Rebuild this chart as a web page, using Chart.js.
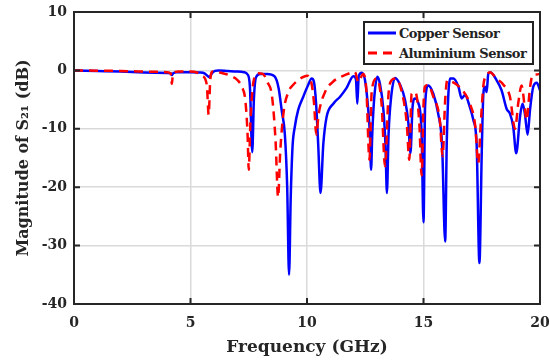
<!DOCTYPE html>
<html>
<head>
<meta charset="utf-8">
<script src="https://cdn.jsdelivr.net/npm/chart.js@4.4.1/dist/chart.umd.min.js"></script>
<style>
  body { margin: 0; background: #fff; }
  #wrap { position: relative; width: 550px; height: 362px; overflow: hidden; }
  #legend {
    position: absolute; left: 363px; top: 21px; width: 167px; height: 40px;
    border: 2px solid #222; background: #fff;
    font: bold 13px "DejaVu Serif", serif; color: #222; letter-spacing: -0.5px;
    white-space: nowrap;
  }
  #legend .row { display: flex; align-items: center; height: 20px; padding-left: 3px; }
  #legend svg { margin-right: 3px; }
</style>
</head>
<body>
<div id="wrap">
  <canvas id="s21Chart" width="550" height="362"></canvas>
  <div id="legend"></div>
</div>
<script>
// Copper sensor S21 (GHz / dB)
const copperFreq = [0, 1, 2, 3, 4.0, 4.15, 4.2, 4.25, 4.4, 5.0, 5.4, 5.6, 5.75, 5.82, 5.9, 6.05, 6.2, 6.6, 7.0, 7.3, 7.45,
  7.55, 7.65, 7.72, 7.81, 7.98, 8.3, 8.6, 8.78, 8.92, 9.05, 9.15, 9.23, 9.3, 9.38, 9.48, 9.62, 9.84, 10.04, 10.2, 10.3,
  10.39, 10.48, 10.58, 10.7, 10.84, 11.13, 11.42, 11.7, 11.99, 12.1, 12.16, 12.22, 12.35, 12.49, 12.63, 12.7, 12.75, 12.8, 12.88,
  13.02, 13.13, 13.28, 13.37, 13.43, 13.5, 13.6, 13.78, 14.0, 14.21, 14.35, 14.44, 14.53, 14.63, 14.78, 14.92, 15.0, 15.07, 15.2, 15.42,
  15.63, 15.8, 15.93, 16.0, 16.14, 16.28, 16.5, 16.64, 16.78, 16.99, 17.14, 17.28, 17.4, 17.5, 17.57, 17.64, 17.71, 17.78, 17.87, 18.14,
  18.35, 18.57, 18.71, 18.85, 18.98, 19.14, 19.25, 19.35, 19.47, 19.57, 19.71, 19.86, 20.0];
const copperDb = [0, -0.1, -0.2, -0.35, -0.45, -0.5, -0.8, -0.5, -0.3, -0.3, -0.35, -0.5, -1.0, -1.2, -0.6, -0.1, 0, -0.1, -0.2, -0.3, -0.7,
  -2.8, -14, -5, -1.2, -0.6, -0.6, -1.0, -3, -7, -11, -20, -35, -22, -13, -9.6, -6.8, -4.5, -2.6, -1.4, -2,
  -5.7, -12.6, -21, -12.6, -8, -5.7, -4.5, -3.0, -1.0, -1.5, -5.7, -1, -0.4, -1.7, -6.8, -11, -17, -11, -5,
  -1.1, -2.3, -6.8, -13, -21, -11, -5, -1.3, -2.5, -5.1, -9, -14.2, -6.3, -4.8, -5.6, -11, -26, -6, -2.6, -4.0,
  -7.4, -13, -29.3, -12, -1.4, -1.4, -2.8, -4.8, -4.2, -6.3, -8.5, -12.6, -33, -14, -4, -2.8, -3.7, -0.6, -0.3, -1.7,
  -3.4, -6.6, -7.4, -9.6, -14.2, -8, -5.7, -7.4, -11, -6.8, -2.8, -2.1, -3.4];

// Aluminium sensor S21 (GHz / dB)
const alumFreq = [0, 1, 2, 3, 4.0, 4.15, 4.2, 4.25, 4.5, 5.0, 5.3, 5.5, 5.7, 5.78, 5.85, 5.95, 6.3, 6.7, 7.0, 7.2,
  7.35, 7.45, 7.5, 7.57, 7.7, 7.9, 8.1, 8.3, 8.5, 8.65, 8.76, 8.85, 9.0, 9.2, 9.4, 9.8, 10.0, 10.15, 10.3, 10.4,
  10.5, 10.8, 11.1, 11.3, 11.6, 12.06, 12.2, 12.41, 12.55, 12.68, 12.78, 13.0, 13.2, 13.35, 13.5, 13.63, 13.8, 14.07, 14.28, 14.39,
  14.49, 14.64, 14.82, 14.92, 15.0, 15.06, 15.2, 15.42, 15.7, 15.82, 15.93, 16.02, 16.2, 16.56, 16.99, 17.22, 17.35, 17.45, 17.57, 17.71,
  17.85, 18.13, 18.42, 18.71, 18.93, 19.07, 19.21, 19.35, 19.42, 19.57, 19.68, 19.85, 20.0];
const alumDb = [0, -0.05, -0.1, -0.2, -0.3, -0.5, -2.3, -0.5, -0.2, -0.2, -0.4, -0.9, -2.5, -7.6, -1.5, -0.2, -0.4, -0.9, -1.6, -2.8,
  -5, -11, -17, -9, -2, -0.5, -0.6, -2, -4.5, -12, -21.7, -14, -7, -3.7, -2.5, -1.2, -0.9, -1.5, -5.5, -11,
  -7.5, -3.5, -2, -1.4, -0.85, -0.3, -2, -0.6, -3.5, -15.3, -3.4, -1.4, -5.7, -16.4, -4, -1.7, -1.4, -3.7, -9, -15.3,
  -4, -3.7, -9, -18, -6, -2.8, -2.5, -4.5, -8.5, -14.7, -5.1, -1.7, -1.9, -2.9, -5.7, -9.5, -15.9, -9.6, -2.6, -0.85,
  -0.3, -1.4, -2.4, -4.5, -10, -5.5, -2.6, -6.5, -8.5, -3, -0.85, -0.7, -0.6];

const xTicks = [0, 5, 10, 15, 20];
const yTicks = [-40, -30, -20, -10, 0, 10];
const seriesNames = ['Copper Sensor', 'Aluminium Sensor'];

const FONT = '"DejaVu Serif", serif';
const INK = '#262626';

function toPoints(xs, ys) {
  return xs.map((x, i) => ({ x: x, y: ys[i] }));
}

// box around the axes with inward tick marks on all four sides
const frameTicks = {
  id: 'frameTicks',
  afterDraw(chart) {
    const { ctx, chartArea: a, scales } = chart;
    const len = 6;
    ctx.save();
    ctx.strokeStyle = INK;
    ctx.lineWidth = 2;
    ctx.beginPath();
    xTicks.forEach(v => {
      const px = scales.x.getPixelForValue(v);
      ctx.moveTo(px, a.bottom); ctx.lineTo(px, a.bottom - len);
      ctx.moveTo(px, a.top); ctx.lineTo(px, a.top + len);
    });
    yTicks.forEach(v => {
      const py = scales.y.getPixelForValue(v);
      ctx.moveTo(a.left, py); ctx.lineTo(a.left + len, py);
      ctx.moveTo(a.right, py); ctx.lineTo(a.right - len, py);
    });
    ctx.stroke();
    ctx.strokeRect(a.left, a.top, a.right - a.left, a.bottom - a.top);
    ctx.restore();
  }
};

function noEdgePad(s) {
  s.paddingLeft = 0; s.paddingRight = 0; s.paddingTop = 0; s.paddingBottom = 0;
}

const ctx = document.getElementById('s21Chart').getContext('2d');
const chart = new Chart(ctx, {
  type: 'line',
  data: {
    datasets: [{
      label: seriesNames[0],
      data: toPoints(copperFreq, copperDb),
      borderColor: '#0000ff',
      borderWidth: 2.5,
      pointRadius: 0,
      cubicInterpolationMode: 'monotone',
      order: 2
    }, {
      label: seriesNames[1],
      data: toPoints(alumFreq, alumDb),
      borderColor: '#ff0000',
      borderWidth: 2.5,
      borderDash: [9, 6],
      pointRadius: 0,
      cubicInterpolationMode: 'monotone',
      order: 1
    }]
  },
  options: {
    responsive: false,
    animation: false,
    layout: { padding: { top: 12, right: 10, left: 0, bottom: 0 } },
    plugins: { legend: { display: false }, tooltip: { enabled: false } },
    scales: {
      x: {
        type: 'linear', min: 0, max: 20,
        afterBuildTicks: s => { s.ticks = xTicks.map(v => ({ value: v })); },
        afterFit: s => { s.height = 58; noEdgePad(s); },
        grid: { color: '#dadada', lineWidth: 1.5, drawTicks: false },
        border: { display: false },
        ticks: { padding: 11, color: INK, font: { family: FONT, size: 14, weight: 'bold' } },
        title: {
          display: true, text: 'Frequency (GHz)', color: INK,
          padding: { top: 0, bottom: 4 },
          font: { family: FONT, size: 17, weight: 'bold' }
        }
      },
      y: {
        type: 'linear', min: -40, max: 10,
        afterBuildTicks: s => { s.ticks = yTicks.map(v => ({ value: v })); },
        afterFit: s => { s.width = 74; noEdgePad(s); },
        grid: { color: '#dadada', lineWidth: 1.5, drawTicks: false },
        border: { display: false },
        ticks: { padding: 7, color: INK, font: { family: FONT, size: 14, weight: 'bold' } },
        title: {
          display: true, text: 'Magnitude of S\u2082\u2081 (dB)', color: INK,
          padding: { top: 14, bottom: 0 },
          font: { family: FONT, size: 16, weight: 'bold' }
        }
      }
    }
  },
  plugins: [frameTicks]
});

// legend box drawn over the plot, styles taken from the datasets
const legend = document.getElementById('legend');
chart.data.datasets.forEach(ds => {
  const dash = ds.borderDash ? ' stroke-dasharray="' + ds.borderDash.join(',') + '"' : '';
  legend.innerHTML += '<div class="row"><svg width="28" height="6"><line x1="0" y1="3" x2="28" y2="3" stroke="' +
    ds.borderColor + '" stroke-width="3"' + dash + '/></svg><span>' + ds.label + '</span></div>';
});
</script>
</body>
</html>
